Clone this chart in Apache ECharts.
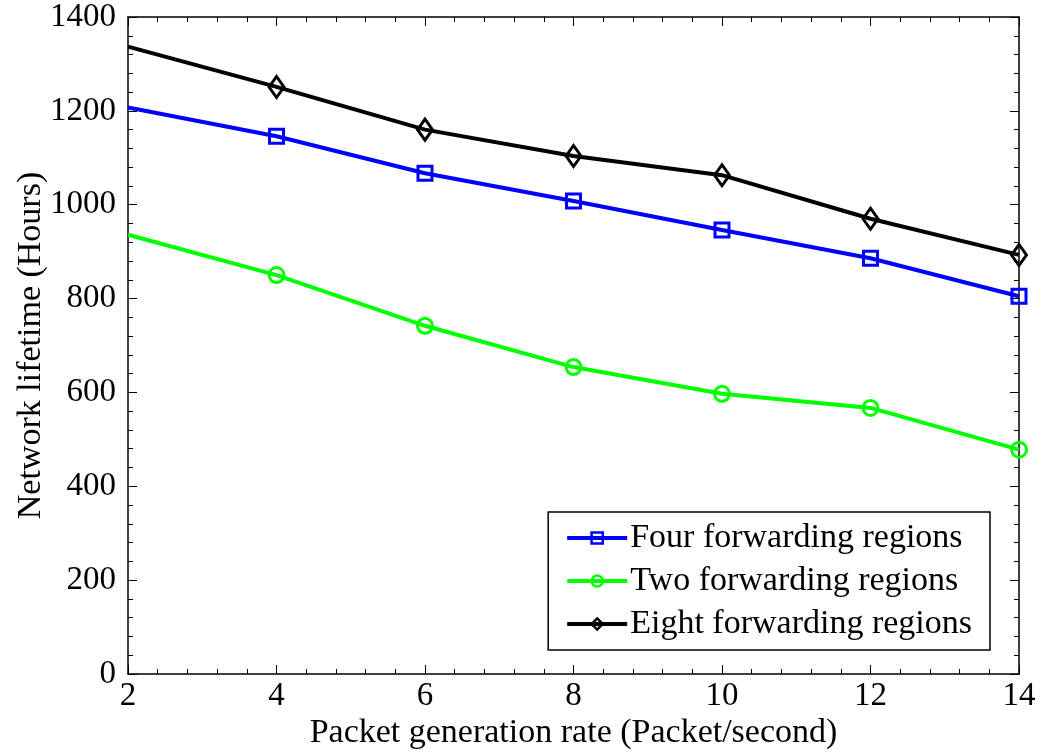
<!DOCTYPE html>
<html>
<head>
<meta charset="utf-8">
<script src="https://cdn.jsdelivr.net/npm/echarts@6/dist/echarts.min.js"></script>
<style>
  html, body { margin: 0; padding: 0; background: #fff; }
  #chart { width: 1042px; height: 755px; }
</style>
</head>
<body>
<div id="chart"></div>
<script>
var rates = [2, 4, 6, 8, 10, 12, 14];
var fourRegions = [1207, 1146, 1067, 1008, 946, 886, 805];
var twoRegions = [936, 850, 742, 654, 597, 567, 478];
var eightRegions = [1337, 1251, 1160, 1104, 1063, 970, 893];
var seriesNames = ['Four forwarding regions', 'Two forwarding regions', 'Eight forwarding regions'];

var fontFamily = '"Liberation Serif", "DejaVu Serif", serif';

// MATLAB style: no marker on the first point
function pairs(values) {
    return values.map(function (v, i) {
        var item = { value: [rates[i], v] };
        if (i === 0) item.symbol = 'none';
        return item;
    });
}

function lineSeries(name, values, color, symbol, size) {
    return {
        name: name, type: 'line', data: pairs(values),
        symbol: symbol, symbolSize: size,
        lineStyle: { width: 4, color: color },
        itemStyle: { color: 'rgba(255,255,255,0)', borderColor: color, borderWidth: 3 }
    };
}

var myChart = echarts.init(document.getElementById('chart'));

var boxAxis = {
    axisLine: { show: true, onZero: false, lineStyle: { color: '#000', width: 1.5 } },
    axisTick: { show: true, inside: true, length: 9, lineStyle: { color: '#000' } },
    minorTick: { show: true, splitNumber: 5, length: 5, lineStyle: { color: '#000' } },
    splitLine: { show: false }
};

var option = {
    backgroundColor: '#fff',
    animation: false,
    textStyle: { fontFamily: fontFamily },
    grid: { left: 128, right: 23, top: 17, bottom: 81, outerBoundsMode: 'none', containLabel: false },
    xAxis: [
        Object.assign({
            type: 'value', min: 2, max: 14, interval: 2, position: 'bottom',
            name: 'Packet generation rate (Packet/second)',
            nameLocation: 'middle', nameGap: 42, nameMoveOverlap: false,
            nameTextStyle: { fontFamily: fontFamily, fontSize: 34, color: '#000' },
            axisLabel: { fontFamily: fontFamily, fontSize: 33, color: '#000', margin: 6 }
        }, boxAxis),
        Object.assign({
            type: 'value', min: 2, max: 14, interval: 2, position: 'top',
            axisLabel: { show: false }
        }, boxAxis)
    ],
    yAxis: [
        Object.assign({
            type: 'value', min: 0, max: 1400, interval: 200, position: 'left',
            name: 'Network lifetime (Hours)',
            nameLocation: 'middle', nameGap: 80, nameMoveOverlap: false,
            nameTextStyle: { fontFamily: fontFamily, fontSize: 34, color: '#000' },
            axisLabel: { fontFamily: fontFamily, fontSize: 33, color: '#000', margin: 12,
                formatter: function (v) { return String(v); } }
        }, boxAxis),
        Object.assign({
            type: 'value', min: 0, max: 1400, interval: 200, position: 'right',
            axisLabel: { show: false }
        }, boxAxis)
    ],
    legend: {
        orient: 'vertical',
        right: 52,
        bottom: 105,
        backgroundColor: '#fff',
        borderColor: '#000',
        borderWidth: 1.5,
        borderRadius: 0,
        padding: [9, 18, 9, 17],
        itemGap: 9,
        itemWidth: 60,
        itemHeight: 14,
        lineStyle: { width: 4 },
        itemStyle: { borderWidth: 2.5 },
        textStyle: { fontFamily: fontFamily, fontSize: 34, color: '#000', padding: [0, 0, 0, -2] },
        data: seriesNames
    },
    series: [
        lineSeries(seriesNames[0], fourRegions, '#0000ff', 'rect', 14),
        lineSeries(seriesNames[1], twoRegions, '#00ff00', 'circle', 15),
        lineSeries(seriesNames[2], eightRegions, '#000000', 'diamond', [15, 21])
    ]
};

myChart.setOption(option);
</script>
</body>
</html>
